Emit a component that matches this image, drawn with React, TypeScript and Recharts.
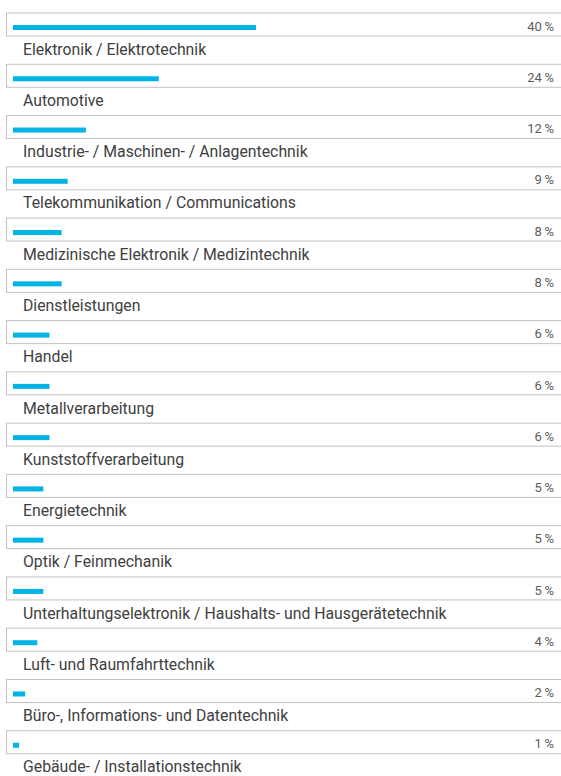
import React from "react";
import { BarChart, Bar, XAxis, YAxis } from "recharts";

const CHART_W = 561;
const CHART_H = 776;

const categories = [
  "Elektronik / Elektrotechnik",
  "Automotive",
  "Industrie- / Maschinen- / Anlagentechnik",
  "Telekommunikation / Communications",
  "Medizinische Elektronik / Medizintechnik",
  "Dienstleistungen",
  "Handel",
  "Metallverarbeitung",
  "Kunststoffverarbeitung",
  "Energietechnik",
  "Optik / Feinmechanik",
  "Unterhaltungselektronik / Haushalts- und Hausgerätetechnik",
  "Luft- und Raumfahrttechnik",
  "Büro-, Informations- und Datentechnik",
  "Gebäude- / Installationstechnik",
];

const shares = [40, 24, 12, 9, 8, 8, 6, 6, 6, 5, 5, 5, 4, 2, 1];

const shareLabels = [
  "40\u2009%", "24\u2009%", "12\u2009%", "9\u2009%", "8\u2009%", "8\u2009%", "6\u2009%", "6\u2009%",
  "6\u2009%", "5\u2009%", "5\u2009%", "5\u2009%", "4\u2009%", "2\u2009%", "1\u2009%",
];

const xDomainMax = 90.2;

const data = categories.map((name, i) => ({ name, share: shares[i], label: shareLabels[i] }));

const FONT = "Roboto, 'Liberation Sans', Arial, sans-serif";
const BLUE = "#00b4e6";
const TRACK = "#c2c2c2";

function BarWithTrack(props: any) {
  const { x, y, width, height } = props;
  return (
    <g>
      <rect
        x={x - 6.5}
        y={y - 12}
        width={CHART_W + 40}
        height={23}
        fill="#ffffff"
        stroke={TRACK}
        strokeWidth={1}
      />
      <rect x={x} y={y} width={width} height={height} fill={BLUE} />
    </g>
  );
}

function CategoryTick(props: any) {
  const { x, y, payload } = props;
  return (
    <text x={x} y={y} dy={27} textAnchor="start" fill="#404040" fontSize={15.8} fontFamily={FONT}>
      {payload.value}
    </text>
  );
}

function ShareTick(props: any) {
  const { x, y, payload, index } = props;
  const idx = payload && typeof payload.index === "number" ? payload.index : index;
  return (
    <text x={x} y={y} dy={3} textAnchor="end" fill="#5c5c5c" fontSize={13} fontFamily={FONT}>
      {shareLabels[idx]}
    </text>
  );
}

export default function App() {
  return (
    <div style={{ position: "absolute", left: 0, top: 0, width: CHART_W, height: CHART_H, background: "#fff" }}>
      <BarChart
        width={CHART_W}
        height={CHART_H}
        data={data}
        layout="vertical"
        margin={{ top: 2, right: 0, bottom: 5, left: 13 }}
        barSize={5}
      >
        <XAxis type="number" domain={[0, xDomainMax]} hide />
        <Bar yAxisId="cat" dataKey="share" shape={<BarWithTrack />} isAnimationActive={false} />
        <YAxis
          yAxisId="cat"
          type="category"
          dataKey="name"
          orientation="left"
          mirror
          width={1}
          axisLine={false}
          tickLine={false}
          tickSize={0}
          tickMargin={10}
          interval={0}
          tick={<CategoryTick />}
        />
        <YAxis
          yAxisId="pct"
          type="category"
          dataKey="name"
          orientation="right"
          mirror
          width={1}
          axisLine={false}
          tickLine={false}
          tickSize={0}
          tickMargin={7}
          interval={0}
          tick={<ShareTick />}
        />
      </BarChart>
    </div>
  );
}
